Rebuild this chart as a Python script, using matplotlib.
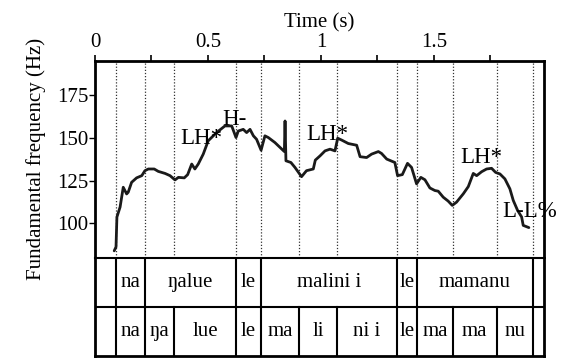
import matplotlib
matplotlib.use("Agg")
import matplotlib.pyplot as plt
from matplotlib import font_manager
from matplotlib.ticker import MultipleLocator

# Register a Times-like serif face if it is present on the system
for path in font_manager.findSystemFonts():
    name = path.lower()
    if "liberationserif" in name.replace("-", "").replace("_", ""):
        font_manager.fontManager.addfont(path)

plt.rcParams['font.family'] = 'serif'
plt.rcParams['font.serif'] = ['Liberation Serif', 'Times New Roman', 'Nimbus Roman',
                              'DejaVu Serif']
plt.rcParams['font.size'] = 15

# F0 contour (time in s, frequency in Hz)
time_s = [0.085, 0.093, 0.097, 0.111, 0.125, 0.140, 0.147, 0.162, 0.184, 0.207,
          0.221, 0.236, 0.262, 0.280, 0.310, 0.332, 0.354, 0.369, 0.395, 0.410,
          0.428, 0.442, 0.457, 0.479, 0.501, 0.538, 0.575, 0.605, 0.624, 0.634,
          0.656, 0.671, 0.686, 0.701, 0.715, 0.735, 0.752, 0.767, 0.796, 0.819,
          0.838, 0.841, 0.845, 0.867, 0.885, 0.914, 0.936, 0.966, 0.975, 0.996,
          1.018, 1.040, 1.062, 1.074, 1.092, 1.121, 1.158, 1.173, 1.202, 1.224,
          1.254, 1.268, 1.291, 1.327, 1.339, 1.360, 1.383, 1.401, 1.423, 1.442,
          1.460, 1.482, 1.504, 1.519, 1.541, 1.563, 1.581, 1.600, 1.630, 1.652,
          1.674, 1.689, 1.711, 1.733, 1.755, 1.773, 1.792, 1.814, 1.836, 1.851,
          1.870, 1.888, 1.895, 1.920]
f0_hz = [83.9, 86.2, 103.7, 109.5, 121.1, 117.2, 118.2, 124.0, 126.6, 127.9,
         130.8, 131.8, 131.8, 130.4, 129.2, 127.9, 125.4, 126.9, 126.6, 128.5,
         134.7, 131.8, 134.7, 140.5, 148.3, 153.1, 157.0, 157.0, 150.2, 154.0,
         155.0, 153.1, 155.0, 151.2, 149.2, 142.8, 151.2, 150.2, 147.3, 144.4,
         142.0, 159.9, 136.6, 135.6, 132.7, 127.3, 130.8, 131.8, 137.0, 139.5,
         142.4, 143.4, 142.4, 149.8, 148.7, 146.7, 145.7, 139.0, 138.5, 140.5,
         142.0, 140.9, 137.6, 135.6, 127.9, 128.5, 135.1, 132.7, 123.1, 126.9,
         125.5, 120.7, 119.2, 118.8, 115.3, 113.0, 110.5, 112.4, 117.3, 121.5,
         129.2, 127.9, 130.2, 131.8, 132.2, 129.8, 128.9, 126.0, 120.2, 113.4,
         107.6, 103.7, 98.8, 97.5]

# Tonal annotations: label, time, frequency of baseline
tone_labels = ["LH*", "H-", "LH*", "LH*", "L-L%"]
tone_times = [0.376, 0.565, 0.934, 1.615, 1.804]
tone_hz = [146.5, 157.5, 148.8, 135.4, 103.5]

# Word tier and syllable tier boundaries (s) and labels
word_bounds = [0.094, 0.221, 0.624, 0.735, 1.335, 1.426, 1.937]
word_labels = ["na", "ŋalue", "le", "malini i", "le", "mamanu"]
syl_bounds = [0.094, 0.221, 0.350, 0.624, 0.735, 0.904, 1.069, 1.335, 1.426,
              1.583, 1.777, 1.937]
syl_labels = ["na", "ŋa", "lue", "le", "ma", "li", "ni i", "le", "ma", "ma", "nu"]

x_max = 1.987
y_range = (80, 195)
y_ticks = [100, 125, 150, 175]

W, H = 573, 358
fig = plt.figure(figsize=(W / 100, H / 100), dpi=100)
left, right = 95 / W, 544 / W
top_px, mid_px, bot_px = 61, 257.5, 356
ax = fig.add_axes([left, 1 - mid_px / H, right - left, (mid_px - top_px) / H])
tax = fig.add_axes([left, 1 - bot_px / H, right - left, (bot_px - mid_px) / H])

# Pitch panel
for b in syl_bounds:
    ax.axvline(b, color="#333333", lw=0.9, ls=(0, (1, 1.5)), zorder=1)
ax.plot(time_s, f0_hz, color="#1a1a1a", lw=2.0, solid_joinstyle="round",
        solid_capstyle="round", zorder=3)
for lab, t, hz in zip(tone_labels, tone_times, tone_hz):
    ax.text(t, hz, lab, fontsize=16.5, ha="left", va="baseline",
            clip_on=False, zorder=4)

ax.set_xlim(0, x_max)
ax.set_ylim(*y_range)
ax.set_yticks(y_ticks)
ax.xaxis.set_major_locator(MultipleLocator(0.5))
ax.xaxis.set_minor_locator(MultipleLocator(0.25))
ax.xaxis.set_major_formatter(plt.FuncFormatter(lambda v, p: f"{v:g}"))
ax.xaxis.tick_top()
ax.xaxis.set_label_position("top")
ax.set_xlabel("Time (s)", labelpad=4)
ax.set_ylabel("Fundamental frequency (Hz)", labelpad=8)
ax.tick_params(axis="x", which="both", direction="out", length=4.5, width=1.2,
               pad=2, top=True, bottom=False)
ax.tick_params(axis="y", direction="out", length=4, width=1, pad=1)
for side in ("top", "left", "right"):
    ax.spines[side].set_linewidth(2)
ax.spines["bottom"].set_linewidth(1)
ax.spines["bottom"].set_linestyle((0, (1, 1)))
ax.spines["bottom"].set_color("#555555")

# Annotation tiers
tax.set_xlim(0, x_max)
tax.set_ylim(0, 2)
tax.axhline(1, color="black", lw=1.5)
for b in word_bounds:
    tax.plot([b, b], [1, 2], color="black", lw=1.5)
for b in syl_bounds:
    tax.plot([b, b], [0, 1], color="black", lw=1.5)
for i, lab in enumerate(word_labels):
    tax.text((word_bounds[i] + word_bounds[i + 1]) / 2, 1.5, lab,
             ha="center", va="center", fontsize=15)
for i, lab in enumerate(syl_labels):
    tax.text((syl_bounds[i] + syl_bounds[i + 1]) / 2, 0.5, lab,
             ha="center", va="center", fontsize=15)
tax.set_xticks([])
tax.set_yticks([])
for side in ("bottom", "left", "right"):
    tax.spines[side].set_linewidth(2)
tax.spines["top"].set_linewidth(1.5)

fig.savefig("out.png", dpi=100)
